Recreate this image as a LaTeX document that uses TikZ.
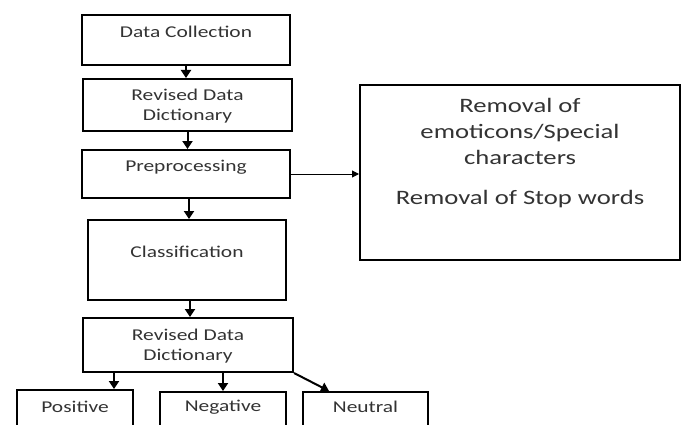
\documentclass[tikz,border=0pt]{standalone}
\usepackage{fontspec}
\setmainfont{Carlito}[FakeStretch=1.3]
\usetikzlibrary{arrows.meta}

\tikzset{
  box/.style={draw=black, line width=2pt, inner sep=0pt},
  txt/.style={text=black!80, align=center, inner sep=0pt, font=\fontsize{16.5}{20}\selectfont},
  bigtxt/.style={txt, font=\fontsize{20.5}{26}\selectfont},
  flow/.style={draw=black, line width=2pt, -{Triangle[width=10pt,length=8pt]}},
  thinflow/.style={draw=black, line width=1pt, -{Triangle[width=7pt,length=7pt]}},
}

\begin{document}
\begin{tikzpicture}[x=1pt,y=-1pt]
\useasboundingbox (0,0) rectangle (687,425);
\clip (0,0) rectangle (687,425);
% main column
\node[box, minimum width=208pt, minimum height=50pt] (dc) at (186,40) {};
\node[txt] (dc-t) at ([yshift=-18pt]dc.north) {Data Collection};
\node[box, minimum width=209pt, minimum height=52pt] (rd1) at (187.5,105) {};
\node[txt] (rd1-t) at ([yshift=-28pt]rd1.north) {Revised Data\\Dictionary};
\node[box, minimum width=208pt, minimum height=48pt] (pre) at (186,174) {};
\node[txt] (pre-t) at ([yshift=-18pt]pre.north) {Preprocessing};
\node[box, minimum width=198pt, minimum height=80pt] (cls) at (187,260) {};
\node[txt] (cls-t) at ([yshift=-33pt]cls.north) {Classification};
\node[box, minimum width=210pt, minimum height=54pt] (rd2) at (188,345) {};
\node[txt] (rd2-t) at ([yshift=-29pt]rd2.north) {Revised Data\\Dictionary};
% preprocessing steps
\node[box, minimum width=320pt, minimum height=175pt] (rem) at (520,172.5) {};
\node[bigtxt] (rem-t) at ([yshift=-69pt]rem.north) {Removal of\\emoticons/Special\\characters\\[14pt]Removal of Stop words};
% classes
\node[box, minimum width=116pt, minimum height=60pt] (pos) at (75,420) {};
\node[txt] (pos-t) at ([yshift=-18pt]pos.north) {Positive};
\node[box, minimum width=126pt, minimum height=60pt] (neg) at (223,422) {};
\node[txt] (neg-t) at ([yshift=-16pt]neg.north) {Negative};
\node[box, minimum width=125pt, minimum height=60pt] (neu) at (365.5,422) {};
\node[txt] (neu-t) at ([yshift=-16pt]neu.north) {Neutral};
% arrows
\draw[flow] (dc.south) -- (dc.south |- rd1.north);
\draw[flow] (rd1.south) -- (rd1.south |- pre.north);
\draw[flow] ([xshift=3pt]pre.south) -- ([xshift=3pt]pre.south |- cls.north);
\draw[flow] ([xshift=3pt]cls.south) -- ([xshift=3pt]cls.south |- rd2.north);
\draw[thinflow] (pre.east) -- (pre.east -| rem.west);
\draw[flow] ([xshift=32pt]rd2.south west) -- ([xshift=-20pt]pos.north east);
\draw[flow] (neg.north |- rd2.south) -- (neg.north);
\draw[flow] (rd2.south east) -- ([xshift=27pt]neu.north west);
\end{tikzpicture}
\end{document}
